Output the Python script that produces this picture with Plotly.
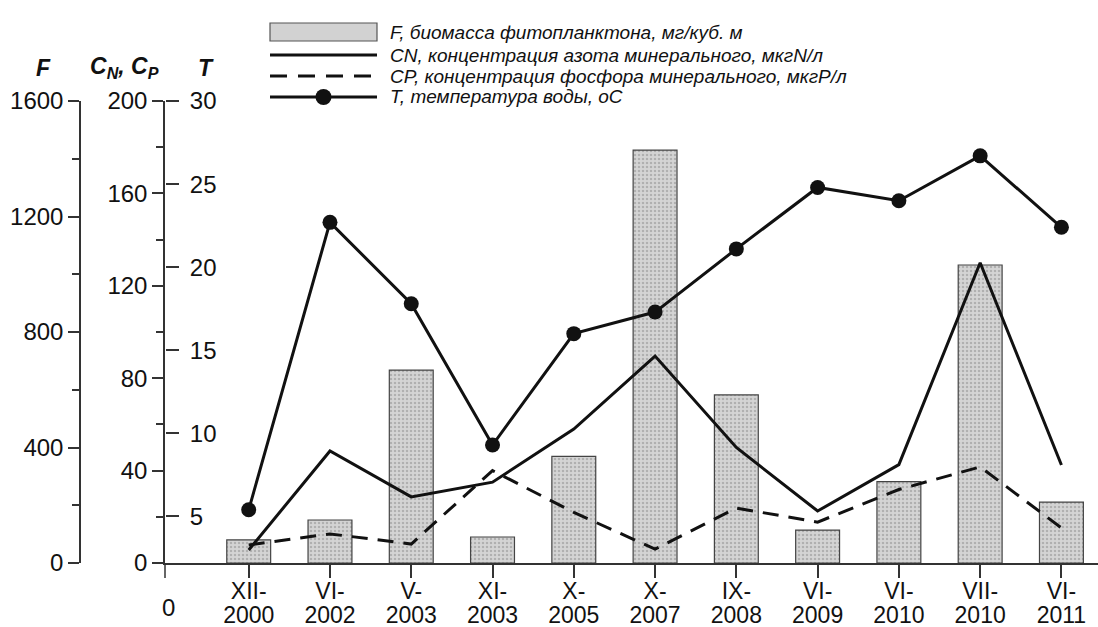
import plotly.graph_objects as go

# ---------------- data ----------------
categories = ["XII-2000", "VI-2002", "V-2003", "XI-2003", "X-2005", "X-2007",
              "IX-2008", "VI-2009", "VI-2010", "VII-2010", "VI-2011"]
tick_top = ["XII-", "VI-", "V-", "XI-", "X-", "X-", "IX-", "VI-", "VI-", "VII-", "VI-"]
tick_bottom = ["2000", "2002", "2003", "2003", "2005", "2007", "2008", "2009", "2010", "2010", "2011"]
F_biomass = [80, 149, 668, 90, 369, 1430, 582, 114, 282, 1032, 211]   # mg/m3
CN_nitrogen = [5.6, 48.5, 28.6, 35, 58, 89.6, 50, 22.5, 42.6, 130, 42.4]  # mkgN/l
CP_phosphorus = [7.8, 12.6, 8.2, 40, 21.9, 6, 23.8, 17.7, 31.8, 41.6, 15.2]  # mkgP/l
T_water = [5.4, 22.7, 17.8, 9.3, 16.0, 17.3, 21.1, 24.8, 24.0, 26.7, 22.4]  # deg C

F_ticks = [0, 400, 800, 1200, 1600]
C_ticks = [0, 40, 80, 120, 160, 200]
T_ticks = [5, 10, 15, 20, 25, 30]

legend_texts = [
    "F, биомасса фитопланктона, мг/куб. м",
    "CN, концентрация азота минерального, мкгN/л",
    "CP, концентрация фосфора минерального, мкгP/л",
    "T, температура воды, оС",
]

# ---------------- layout helpers ----------------
W, H = 1098, 627
def px(x):
    return x / W
def py(y):
    return (H - y) / H

FONT = "Liberation Sans, Arial, sans-serif"
INK = "#111111"
AX = "#333333"
TICK_SIZE = 24

span = "<span style='font-size:23px'>%s</span>"
tick_labels = [span % a + "<br>" + span % b for a, b in zip(tick_top, tick_bottom)]

fig = go.Figure()

fig.add_trace(go.Bar(
    x=categories, y=F_biomass, yaxis="y", width=0.54,
    marker=dict(color="#cfcfcf", line=dict(color="#444444", width=1.2),
                pattern=dict(shape=".", fgcolor="#8c8c8c", bgcolor="#d4d4d4", size=4, solidity=0.3)),
    name="F", showlegend=False))

fig.add_trace(go.Scatter(
    x=categories, y=CN_nitrogen, yaxis="y2", mode="lines",
    line=dict(color=INK, width=3), name="CN", showlegend=False))

fig.add_trace(go.Scatter(
    x=categories, y=CP_phosphorus, yaxis="y2", mode="lines",
    line=dict(color=INK, width=3, dash="16px,10px"), name="CP", showlegend=False))

fig.add_trace(go.Scatter(
    x=categories, y=T_water, yaxis="y3", mode="lines+markers",
    line=dict(color=INK, width=3), marker=dict(size=15, color=INK),
    name="T", showlegend=False))

ydom = [py(563), py(101)]
xleft = px(165)

fig.update_layout(
    width=W, height=H, autosize=False,
    margin=dict(l=0, r=0, t=0, b=0, autoexpand=False),
    paper_bgcolor="white", plot_bgcolor="rgba(0,0,0,0)",
    font=dict(family=FONT, color=INK, size=22),
    showlegend=False,
    xaxis=dict(
        domain=[xleft, 1.0], range=[-1.03, 10.45], automargin=False,
        tickvals=categories, ticktext=tick_labels,
        showline=True, linecolor=AX, linewidth=1.5,
        ticks="outside", ticklen=13, tickcolor=AX, tickwidth=1.5,
        tickfont=dict(size=18, family=FONT, color=INK),
        showgrid=False, zeroline=False, anchor="y",
    ),
    yaxis=dict(
        domain=ydom, range=[0, 1600], anchor="free", position=px(80), side="left",
        automargin=False,
        tickvals=F_ticks, showline=True, linecolor=AX, linewidth=1.5,
        ticks="outside", ticklen=11, tickcolor=AX, tickwidth=1.5,
        minor=dict(dtick=200, ticks="outside", ticklen=7, tickcolor=AX, tickwidth=1.5),
        tickfont=dict(size=TICK_SIZE, family=FONT, color=INK),
        showgrid=False, zeroline=False,
    ),
    yaxis2=dict(
        overlaying="y", anchor="x", side="left", range=[0, 200], automargin=False,
        tickvals=C_ticks, showline=True, linecolor=AX, linewidth=1.5,
        ticks="outside", ticklen=11, tickcolor=AX, tickwidth=1.5,
        minor=dict(dtick=20, ticks="outside", ticklen=7, tickcolor=AX, tickwidth=1.5),
        tickfont=dict(size=TICK_SIZE, family=FONT, color=INK),
        showgrid=False, zeroline=False,
    ),
    yaxis3=dict(
        overlaying="y", anchor="free", position=xleft, side="right", range=[2.2, 30.001],
        automargin=False,
        tickvals=T_ticks, showline=False,
        ticks="outside", ticklen=13, tickcolor=AX, tickwidth=1.5,
        ticklabelstandoff=6,
        tickfont=dict(size=TICK_SIZE, family=FONT, color=INK),
        showgrid=False, zeroline=False,
    ),
)

shapes = []
annotations = []

# axis extension below the zero line and the "0" under it
shapes.append(dict(type="line", xref="paper", yref="paper", x0=xleft, x1=xleft,
                   y0=py(563), y1=py(578), line=dict(color=AX, width=1.5)))
annotations.append(dict(xref="paper", yref="paper", x=px(168), y=py(607), text="0",
                        xanchor="center", yanchor="middle",
                        showarrow=False, font=dict(size=TICK_SIZE, family=FONT, color=INK)))

# axis titles
for x, t in [(43, "<b><i>F</i></b>"), (124, "<b><i>C<sub>N</sub>, C<sub>P</sub></i></b>"),
             (206, "<b><i>T</i></b>")]:
    annotations.append(dict(xref="paper", yref="paper", x=px(x), y=py(68), text=t,
                            xanchor="center", yanchor="middle",
                            showarrow=False, font=dict(size=23, family=FONT, color=INK)))

# legend (drawn manually to reproduce the wide swatches)
lx0, lx1 = 270, 377
rows = [32, 55, 76, 97]
shapes.append(dict(type="rect", xref="paper", yref="paper", x0=px(lx0), x1=px(lx1),
                   y0=py(rows[0] + 9), y1=py(rows[0] - 9),
                   fillcolor="#d2d2d2", line=dict(color="#555555", width=1.2)))
shapes.append(dict(type="line", xref="paper", yref="paper", x0=px(lx0), x1=px(lx1),
                   y0=py(rows[1]), y1=py(rows[1]), line=dict(color=INK, width=3)))
shapes.append(dict(type="line", xref="paper", yref="paper", x0=px(lx0), x1=px(lx1),
                   y0=py(rows[2]), y1=py(rows[2]), line=dict(color=INK, width=3, dash="17px,11px")))
shapes.append(dict(type="line", xref="paper", yref="paper", x0=px(lx0), x1=px(lx1),
                   y0=py(rows[3]), y1=py(rows[3]), line=dict(color=INK, width=3)))
cx = (lx0 + lx1) / 2
shapes.append(dict(type="circle", xref="paper", yref="paper", x0=px(cx - 8), x1=px(cx + 8),
                   y0=py(rows[3] + 8), y1=py(rows[3] - 8), fillcolor=INK, line=dict(color=INK, width=0)))
for r, t in zip(rows, legend_texts):
    annotations.append(dict(xref="paper", yref="paper", x=px(388), y=py(r), text="<i>" + t + "</i>",
                            xanchor="left", yanchor="middle", showarrow=False,
                            font=dict(size=19, family=FONT, color=INK)))

fig.update_layout(shapes=shapes, annotations=annotations)

fig.write_html(
    "out.html",
    config={"displayModeBar": False},
    post_script="document.documentElement.style.margin='0';document.body.style.margin='0';"
                "document.body.style.padding='0';document.body.style.overflow='hidden';",
)
